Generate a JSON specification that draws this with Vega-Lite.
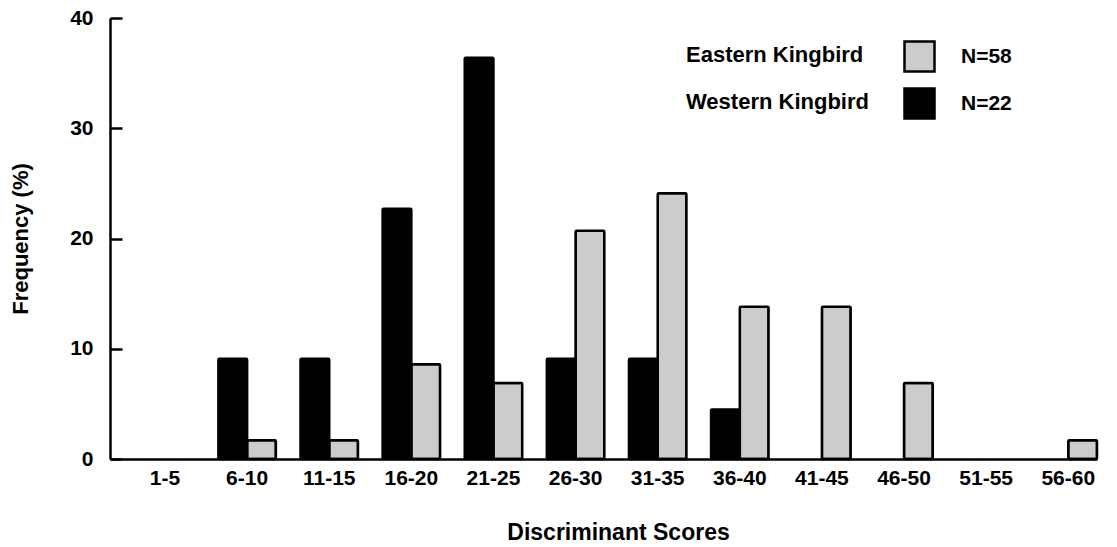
{
  "$schema": "https://vega.github.io/schema/vega-lite/v6.json",
  "width": 987,
  "height": 441,
  "autosize": {"type": "none"},
  "padding": {"left": 110, "top": 18, "right": 20, "bottom": 88},
  "background": "white",
  "config": {"view": {"stroke": null}, "font": "Liberation Sans"},
  "data": {
    "values": [
      {"range": "6-10", "species": "Western Kingbird", "n": "N=22", "freq": 9.1},
      {"range": "11-15", "species": "Western Kingbird", "n": "N=22", "freq": 9.1},
      {"range": "16-20", "species": "Western Kingbird", "n": "N=22", "freq": 22.7},
      {"range": "21-25", "species": "Western Kingbird", "n": "N=22", "freq": 36.4},
      {"range": "26-30", "species": "Western Kingbird", "n": "N=22", "freq": 9.1},
      {"range": "31-35", "species": "Western Kingbird", "n": "N=22", "freq": 9.1},
      {"range": "36-40", "species": "Western Kingbird", "n": "N=22", "freq": 4.5},
      {"range": "6-10", "species": "Eastern Kingbird", "n": "N=58", "freq": 1.7},
      {"range": "11-15", "species": "Eastern Kingbird", "n": "N=58", "freq": 1.7},
      {"range": "16-20", "species": "Eastern Kingbird", "n": "N=58", "freq": 8.6},
      {"range": "21-25", "species": "Eastern Kingbird", "n": "N=58", "freq": 6.9},
      {"range": "26-30", "species": "Eastern Kingbird", "n": "N=58", "freq": 20.7},
      {"range": "31-35", "species": "Eastern Kingbird", "n": "N=58", "freq": 24.1},
      {"range": "36-40", "species": "Eastern Kingbird", "n": "N=58", "freq": 13.8},
      {"range": "41-45", "species": "Eastern Kingbird", "n": "N=58", "freq": 13.8},
      {"range": "46-50", "species": "Eastern Kingbird", "n": "N=58", "freq": 6.9},
      {"range": "56-60", "species": "Eastern Kingbird", "n": "N=58", "freq": 1.7}
    ]
  },
  "mark": {"type": "bar", "stroke": "black", "strokeWidth": 2.5, "cornerRadius": 1},
  "encoding": {
    "x": {
      "field": "range",
      "type": "nominal",
      "scale": {
        "domain": ["1-5", "6-10", "11-15", "16-20", "21-25", "26-30", "31-35", "36-40", "41-45", "46-50", "51-55", "56-60"],
        "paddingInner": 0.3,
        "paddingOuter": 0.16,
        "align": 1
      },
      "axis": {
        "title": "Discriminant Scores",
        "labelAngle": 0,
        "ticks": false,
        "grid": false,
        "domainColor": "black",
        "domainWidth": 2.5,
        "labelFontSize": 21,
        "labelFontWeight": "bold",
        "labelColor": "black",
        "labelPadding": 8,
        "titleFontSize": 23,
        "titleFontWeight": "bold",
        "titleColor": "black",
        "titlePadding": 33,
        "titleX": 508
      }
    },
    "xOffset": {
      "field": "species",
      "type": "nominal",
      "scale": {"domain": ["Western Kingbird", "Eastern Kingbird"], "paddingInner": 0, "paddingOuter": 0}
    },
    "y": {
      "field": "freq",
      "type": "quantitative",
      "scale": {"domain": [0, 40]},
      "axis": {
        "title": "Frequency (%)",
        "values": [0, 10, 20, 30, 40],
        "grid": false,
        "tickSize": -12,
        "tickWidth": 2.5,
        "tickColor": "black",
        "domainColor": "black",
        "domainWidth": 2.5,
        "labelFontSize": 21,
        "labelFontWeight": "bold",
        "labelColor": "black",
        "labelPadding": 29,
        "titleFontSize": 22,
        "titleFontWeight": "bold",
        "titleColor": "black",
        "titlePadding": 37
      }
    },
    "fill": {
      "field": "n",
      "type": "nominal",
      "scale": {"domain": ["N=58", "N=22"], "range": ["#cccccc", "#000000"]},
      "legend": {
        "orient": "none",
        "legendX": 793,
        "legendY": 22,
        "title": null,
        "padding": 0,
        "symbolType": "square",
        "symbolSize": 900,
        "symbolStrokeColor": "black",
        "symbolStrokeWidth": 2.5,
        "labelFontSize": 21,
        "labelFontWeight": "bold",
        "labelColor": "black",
        "labelOffset": 25,
        "rowPadding": 6
      }
    },
    "opacity": {
      "field": "species",
      "type": "nominal",
      "scale": {"domain": ["Eastern Kingbird", "Western Kingbird"], "range": [1, 1]},
      "legend": {
        "orient": "none",
        "legendX": 546,
        "legendY": 22,
        "title": null,
        "padding": 0,
        "symbolType": "square",
        "symbolSize": 900,
        "symbolFillColor": "transparent",
        "symbolStrokeColor": "transparent",
        "symbolStrokeWidth": 0,
        "labelFontSize": 22,
        "labelFontWeight": "bold",
        "labelColor": "black",
        "labelLimit": 400,
        "labelOffset": 0,
        "rowPadding": 17,
        "encode": {
          "symbols": {
            "update": {
              "fill": {"value": "transparent"},
              "stroke": {"value": "transparent"},
              "fillOpacity": {"value": 0},
              "strokeOpacity": {"value": 0}
            }
          }
        }
      }
    }
  }
}
